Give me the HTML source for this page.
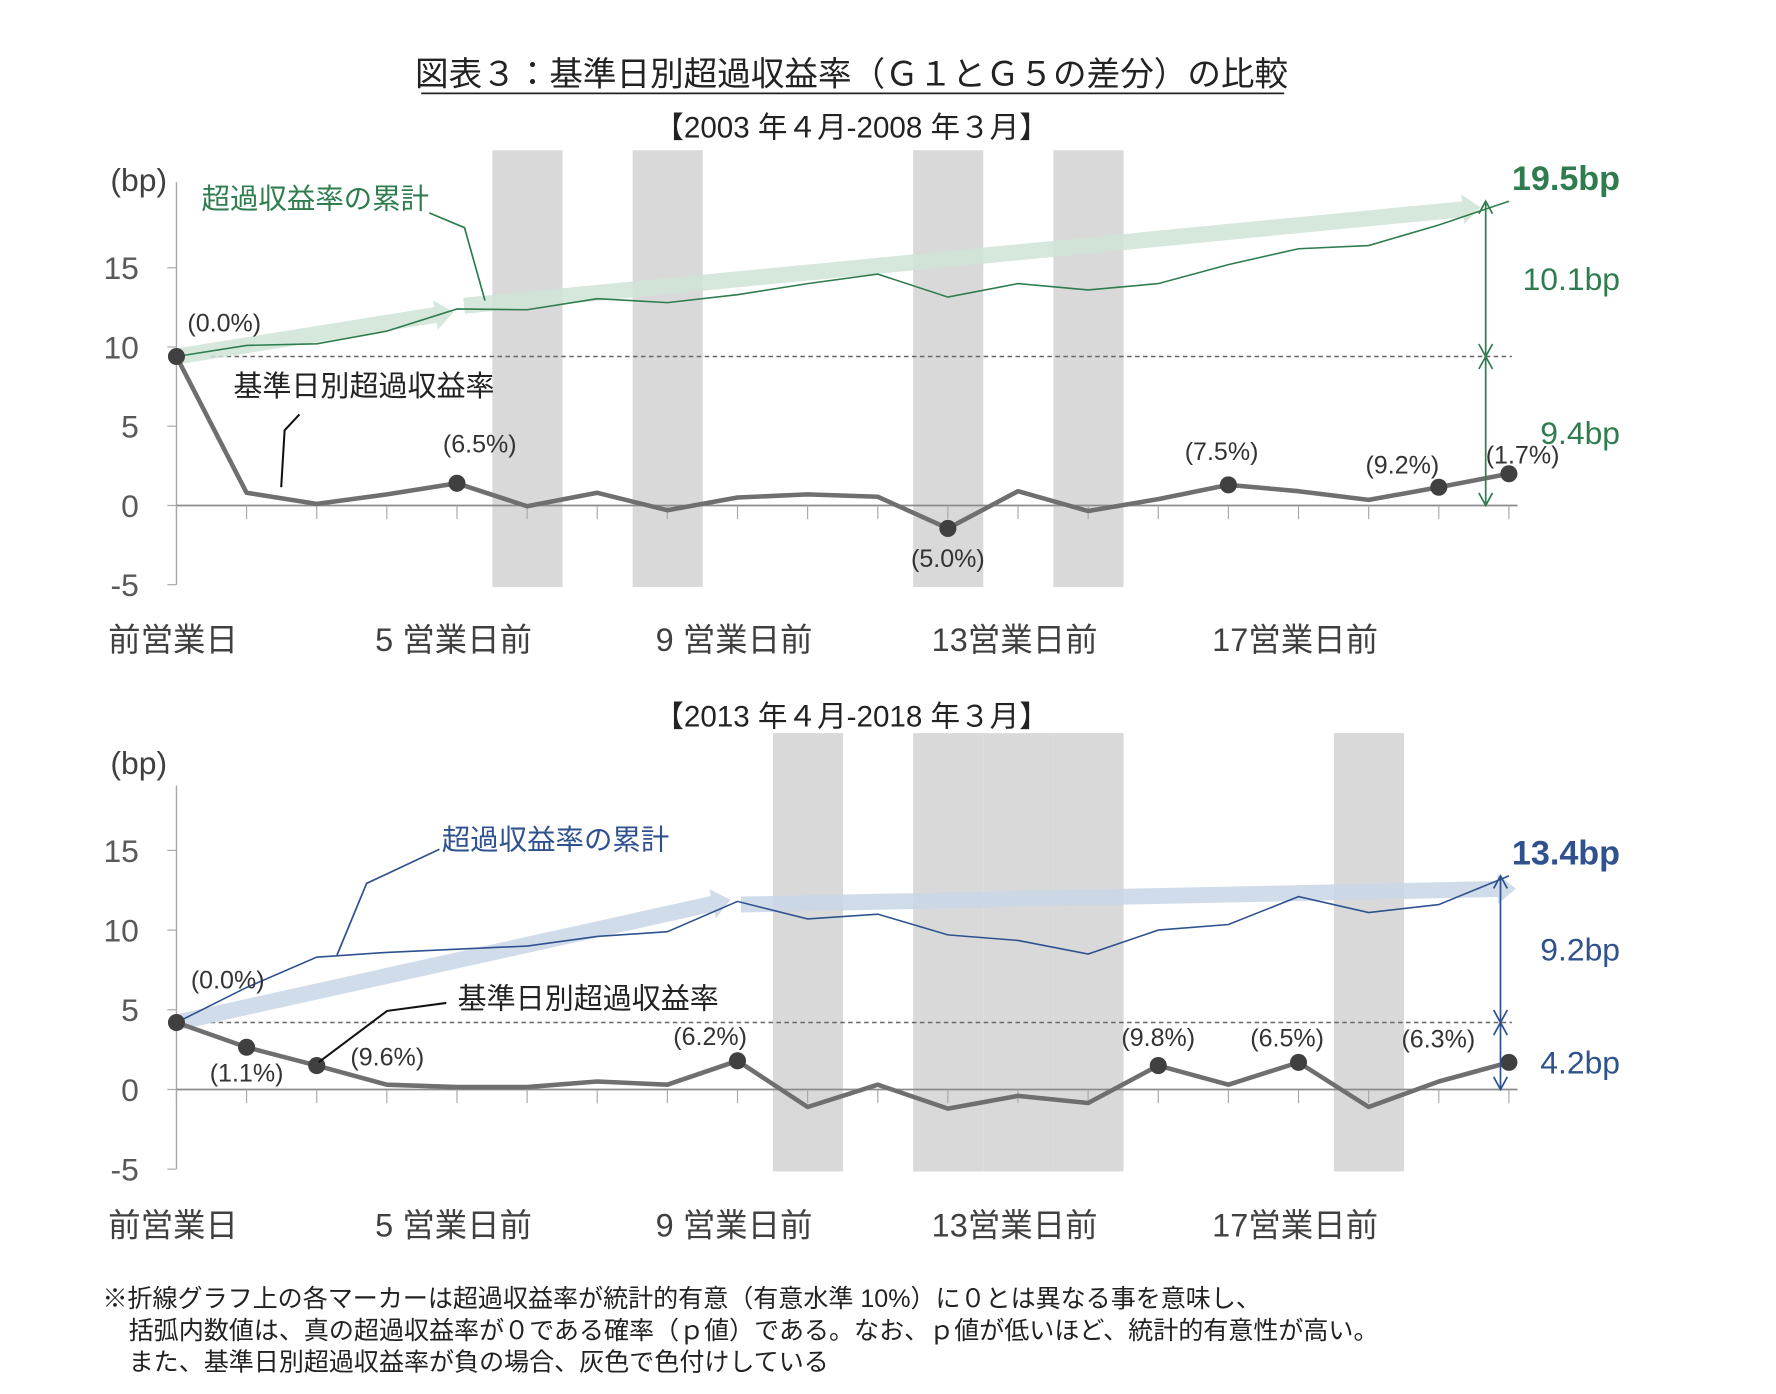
<!DOCTYPE html>
<html><head><meta charset="utf-8">
<style>
html,body{margin:0;padding:0;background:#fff;}
svg{display:block;}
text{font-family:"Liberation Sans","Noto Sans CJK JP",sans-serif;}
</style></head>
<body>
<svg id="chart" width="1776" height="1394" viewBox="0 0 1560 1224.5" preserveAspectRatio="none" xmlns="http://www.w3.org/2000/svg">
<text x="748" y="75" text-anchor="middle" font-size="29.5" fill="#222">図表３：基準日別超過収益率（Ｇ１とＧ５の差分）の比較</text>
<line x1="370" y1="82" x2="1128" y2="82" stroke="#222" stroke-width="1.5"/>
<g id="c1"></g>
<g id="c2"></g>
<text x="90" y="1148" font-size="22" fill="#222">※折線グラフ上の各マーカーは超過収益率が統計的有意（有意水準 10%）に０とは異なる事を意味し、</text>
<text x="113" y="1176" font-size="22" fill="#222">括弧内数値は、真の超過収益率が０である確率（ｐ値）である。なお、ｐ値が低いほど、統計的有意性が高い。</text>
<text x="113" y="1204" font-size="22" fill="#222">また、基準日別超過収益率が負の場合、灰色で色付けしている</text>
</svg>
<script>
const categories = ["前営業日","2","3","4","5 営業日前","6","7","8","9 営業日前","10","11","12","13営業日前","14","15","16","17営業日前","18","19","20"];
const yTicks = [15,10,5,0,-5];
const daily1 = [9.4,0.8,0.1,0.7,1.4,-0.05,0.8,-0.3,0.5,0.7,0.55,-1.45,0.9,-0.35,0.4,1.3,0.9,0.35,1.15,2.0];
const cum1 = [9.4,10.1,10.2,11.0,12.4,12.35,13.05,12.8,13.3,14.0,14.6,13.15,14.0,13.6,14.0,15.2,16.2,16.4,17.7,19.2];
const markers1 = [0,4,11,15,18,19];
const pLabels1 = ["(0.0%)","(6.5%)","(5.0%)","(7.5%)","(9.2%)","(1.7%)"];
const daily2 = [4.2,2.65,1.5,0.3,0.15,0.15,0.5,0.3,1.8,-1.1,0.3,-1.2,-0.4,-0.85,1.5,0.3,1.7,-1.1,0.5,1.7];
const cum2 = [4.2,6.4,8.3,8.6,8.8,9.0,9.6,9.9,11.8,10.7,11.0,9.7,9.35,8.5,10.0,10.35,12.1,11.1,11.6,13.4];
const markers2 = [0,1,2,8,14,16,19];
const pLabels2 = ["(0.0%)","(1.1%)","(9.6%)","(6.2%)","(9.8%)","(6.5%)","(6.3%)"];

const NS="http://www.w3.org/2000/svg";
function mk(parent,tag,attrs,text){const e=document.createElementNS(NS,tag);for(const k in attrs)e.setAttribute(k,attrs[k]);if(text!==undefined)e.textContent=text;parent.appendChild(e);return e;}
const xOf=i=>155+i*61.6;

function draw(g,cfg){
  const y0=cfg.y0, unit=cfg.unit;
  const yOf=v=>y0-v*unit;
  let t;
  t=mk(g,'text',{x:748,y:cfg.subY,'text-anchor':'middle','font-size':26,fill:'#222'},cfg.sub);
  
  
  cfg.daily.forEach((v,i)=>{ if(v<0){
    const r=mk(g,'rect',{x:xOf(i)-30.5,y:cfg.barTop,width:61.6,height:yOf(-5)+2-cfg.barTop,fill:'#d9d9d9'});
    
    
  }});
  let a=mk(g,'line',{x1:155,y1:cfg.axisTop,x2:155,y2:yOf(-5),stroke:'#a6a6a6','stroke-width':1.2});
  
  
  a=mk(g,'line',{x1:155,y1:y0,x2:1333,y2:y0,stroke:'#8c8c8c','stroke-width':1.5});
  
  
  categories.forEach((c,i)=>{
    const tk=mk(g,'line',{x1:xOf(i),y1:y0,x2:xOf(i),y2:y0+12,stroke:'#a6a6a6','stroke-width':1});
    
    
    if(i%4===0){
      const l=mk(g,'text',{x:xOf(i)-3,y:cfg.catY,'text-anchor':'middle','font-size':28.5,fill:'#404040'},c);
      
      
    }
  });
  yTicks.forEach(v=>{
    const tk=mk(g,'line',{x1:147,y1:yOf(v),x2:155,y2:yOf(v),stroke:'#a6a6a6','stroke-width':1});
    
    
    const l=mk(g,'text',{x:122,y:yOf(v)+10,'text-anchor':'end','font-size':28,fill:'#595959'},String(v));
    
    
  });
  t=mk(g,'text',{x:97,y:cfg.bpY,'font-size':28,fill:'#404040'},'(bp)');
  
  
  const base=cfg.daily[0];
  let d=mk(g,'line',{x1:185,y1:yOf(base),x2:1328,y2:yOf(base),stroke:'#666','stroke-width':1.3,'stroke-dasharray':'4,3'});
  
  
  cfg.arrows.forEach(ar=>{
    const [i1,v1,i2,v2]=ar;
    const x1=xOf(i1),y1=yOf(v1),x2=xOf(i2),y2=yOf(v2);
    const dx=x2-x1,dy=y2-y1,L=Math.hypot(dx,dy),ux=dx/L,uy=dy/L,nx=-uy,ny=ux;
    const w=7,hw=13,hl=16;
    const bx=x2-ux*hl,by=y2-uy*hl;
    const pts=[[x1+nx*w,y1+ny*w],[bx+nx*w,by+ny*w],[bx+nx*hw,by+ny*hw],[x2,y2],[bx-nx*hw,by-ny*hw],[bx-nx*w,by-ny*w],[x1-nx*w,y1-ny*w]];
    const p=mk(g,'polygon',{points:pts.map(q=>q.join(',')).join(' '),fill:cfg.arrowFill,opacity:0.85});
    
    
  });
  let pl=mk(g,'polyline',{points:cfg.cum.map((v,i)=>xOf(i)+','+yOf(v)).join(' '),fill:'none',stroke:cfg.color,'stroke-width':1.4});
  
  
  pl=mk(g,'polyline',{points:cfg.daily.map((v,i)=>xOf(i)+','+yOf(v)).join(' '),fill:'none',stroke:'#6f6f6f','stroke-width':4,'stroke-linejoin':'round'});
  
  
  cfg.markers.forEach((i,k)=>{
    const c=mk(g,'circle',{cx:xOf(i),cy:yOf(cfg.daily[i]),r:7.5,fill:'#404040'});
    
    
    const off=cfg.labelOff[k];
    const l=mk(g,'text',{x:xOf(i)+off[0],y:yOf(cfg.daily[i])+off[1],'text-anchor':'middle','font-size':22,fill:'#333'},cfg.pLabels[k]);
    
    
  });
  const dx=cfg.dimX, yt=yOf(cfg.cum[cfg.cum.length-1]), yb=yOf(base);
  const seg=(ya,yb2)=>{
    const l=mk(g,'line',{x1:dx,y1:ya,x2:dx,y2:yb2,stroke:cfg.color,'stroke-width':1.5});
    
    
    [[ya,1],[yb2,-1]].forEach(([yy,s])=>{
      const h=mk(g,'polyline',{points:`${dx-6},${yy+s*11} ${dx},${yy} ${dx+6},${yy+s*11}`,fill:'none',stroke:cfg.color,'stroke-width':1.5});
      
      
    });
  };
  seg(yt,yb); seg(yb,y0);
  t=mk(g,'text',{x:1423,y:yt-10,'text-anchor':'end','font-size':30,'font-weight':'bold',fill:cfg.color},cfg.totalLabel);
  
  
  t=mk(g,'text',{x:1423,y:(yt+yb)/2+10,'text-anchor':'end','font-size':28,fill:cfg.color},cfg.midLabel);
  
  
  t=mk(g,'text',{x:1423,y:cfg.firstLabelY,'text-anchor':'end','font-size':28,fill:cfg.color},cfg.firstLabel);
  
  
  t=mk(g,'text',{x:cfg.cumAnn[0],y:cfg.cumAnn[1],'font-size':25,fill:cfg.color},'超過収益率の累計');
  
  
  let ld=mk(g,'polyline',{points:cfg.cumLeader,fill:'none',stroke:cfg.color,'stroke-width':1.5});
  
  
  t=mk(g,'text',{x:cfg.dayAnn[0],y:cfg.dayAnn[1],'font-size':25.5,fill:'#222'},'基準日別超過収益率');
  
  
  ld=mk(g,'polyline',{points:cfg.dayLeader,fill:'none',stroke:'#111','stroke-width':1.8});
  
  
}

draw(document.getElementById('c1'),{
  y0:444,unit:13.92,sub:'【2003 年４月-2008 年３月】',subY:121,barTop:132,axisTop:160,catY:572,bpY:168,
  daily:daily1,cum:cum1,markers:markers1,pLabels:pLabels1,
  labelOff:[[42,-22],[20,-27],[0,34],[-6,-22],[-32,-12],[12,-9]],
  color:'#2f7d4f',arrowFill:'#cfe3d6',
  arrows:[[0,daily1[0],3.95,12.2],[4.1,12.6,18.6,18.8]],
  dimX:1305,totalLabel:'19.5bp',midLabel:'10.1bp',firstLabel:'9.4bp',firstLabelY:390,
  cumAnn:[177,183],cumLeader:'377,187 408,200 426,264',
  dayAnn:[205,348],dayLeader:'263,364 250,378 247,428'
});
draw(document.getElementById('c2'),{
  y0:957,unit:14,sub:'【2013 年４月-2018 年３月】',subY:638,barTop:644,axisTop:690,catY:1086,bpY:680,
  daily:daily2,cum:cum2,markers:markers2,pLabels:pLabels2,
  labelOff:[[45,-30],[0,30],[62,0],[-24,-14],[0,-17],[-10,-14],[-62,-13]],
  color:'#2f528f',arrowFill:'#c9d6e6',
  arrows:[[0,daily2[0],7.9,11.9],[8.05,11.6,19.1,12.6]],
  dimX:1318,totalLabel:'13.4bp',midLabel:'9.2bp',firstLabel:'4.2bp',firstLabelY:943,
  cumAnn:[388,746],cumLeader:'386,746 322,776 296,839',
  dayAnn:[402,886],dayLeader:'392,881 340,888 280,933'
});
</script>
</body></html>
